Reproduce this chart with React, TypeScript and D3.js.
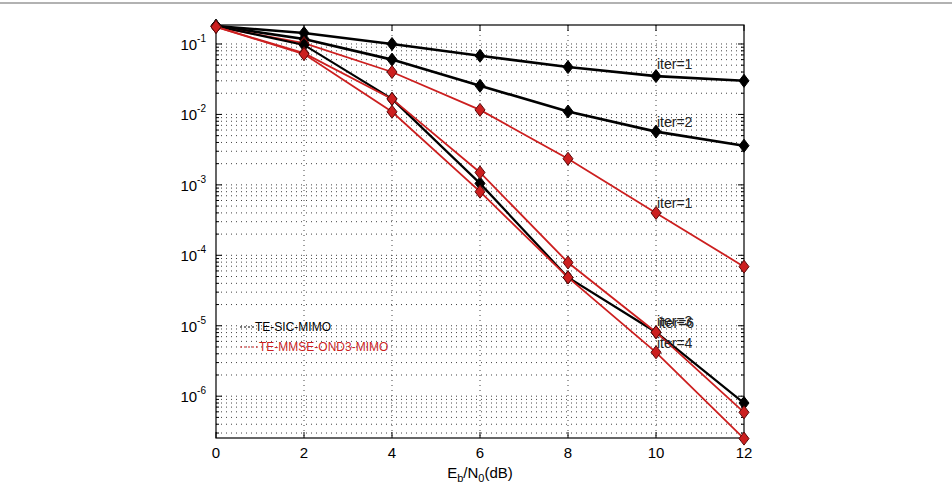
import React from 'react';
import * as d3 from 'd3';

const W = 952;
const H = 484;

const snr = [0, 2, 4, 6, 8, 10, 12];

// TE-SIC-MIMO (black)
const sicIter1 = [0.18, 0.143, 0.1, 0.068, 0.047, 0.035, 0.03];
const sicIter2 = [0.18, 0.118, 0.06, 0.0255, 0.011, 0.0057, 0.0036];
const sicIter3 = [0.18, 0.097, 0.0166, 0.00105, 0.0000485, 0.0000081, 0.0000008];

// TE-MMSE-OND3-MIMO (red)
const mmseIter1 = [0.175, 0.103, 0.04, 0.0116, 0.00235, 0.0004, 0.000069];
const mmseIter3 = [0.175, 0.074, 0.0166, 0.0015, 0.000079, 0.0000081, 0.00000059];
const mmseIter4 = [0.175, 0.072, 0.0109, 0.0008, 0.0000485, 0.0000042, 0.00000025];

const xTicks = [0, 2, 4, 6, 8, 10, 12];
const yDecades = [-1, -2, -3, -4, -5, -6];

const labels = [
  { text: 'iter=1', x: 10, y: 0.044 },
  { text: 'iter=2', x: 10, y: 0.0066 },
  { text: 'iter=1', x: 10, y: 0.00047 },
  { text: 'iter=3', x: 10, y: 0.0000098 },
  { text: 'iter=6', x: 10.04, y: 0.0000092 },
  { text: 'iter=4', x: 10, y: 0.0000049 },
];

const BLACK = '#000000';
const RED = '#cc1f1f';

const App: React.FC = () => {
  const left = 216, right = 744, top = 25, bottom = 438;
  const x = d3.scaleLinear().domain([0, 12]).range([left, right]);
  const y = d3.scaleLog().domain([2.55e-7, 0.186]).range([bottom, top]);

  const line = d3.line<number>().x((_, i) => x(snr[i])).y(d => y(d));

  const minor: number[] = [];
  for (let e = -7; e <= -1; e++) {
    for (let m = 1; m <= 9; m++) {
      const v = m * Math.pow(10, e);
      if (v >= 2.55e-7 && v <= 0.186) minor.push(v);
    }
  }

  const series = [
    { data: sicIter1, color: BLACK, w: 2.6, fill: BLACK },
    { data: sicIter2, color: BLACK, w: 2.6, fill: BLACK },
    { data: mmseIter1, color: RED, w: 1.8, fill: RED },
    { data: sicIter3, color: BLACK, w: 2.2, fill: BLACK },
    { data: mmseIter3, color: RED, w: 1.8, fill: RED },
    { data: mmseIter4, color: RED, w: 1.8, fill: RED },
  ];

  const diamond = (cx: number, cy: number) =>
    `M${cx},${cy - 6.5}L${cx + 5},${cy}L${cx},${cy + 6.5}L${cx - 5},${cy}Z`;

  const font = 'Arial, "Liberation Sans", Helvetica, sans-serif';

  return (
    <div style={{ position: 'absolute', left: 0, top: 0, width: W, height: H, background: '#fff' }}>
      <svg width={W} height={H} style={{ display: 'block' }} fontFamily={font}>
        <rect x={0} y={0} width={W} height={H} fill="#fff" />
        <line x1={0} x2={W} y1={3} y2={3} stroke="#999" strokeWidth={1.5} />

        {/* grid */}
        <g stroke="#444" strokeWidth={1} strokeDasharray="1,4">
          {minor.map((v, i) => (
            <line key={'h' + i} x1={left} x2={right} y1={y(v)} y2={y(v)} />
          ))}
          {xTicks.slice(1, -1).map(t => (
            <line key={'v' + t} x1={x(t)} x2={x(t)} y1={top} y2={bottom} />
          ))}
        </g>

        {/* ticks */}
        <g stroke="#000" strokeWidth={1}>
          {minor.map((v, i) => {
            const major = Math.abs(Math.log10(v) - Math.round(Math.log10(v))) < 1e-9;
            const len = major ? 6 : 3;
            return (
              <g key={'t' + i}>
                <line x1={left} x2={left + len} y1={y(v)} y2={y(v)} />
                <line x1={right} x2={right - len} y1={y(v)} y2={y(v)} />
              </g>
            );
          })}
          {xTicks.map(t => (
            <g key={'xt' + t}>
              <line x1={x(t)} x2={x(t)} y1={bottom} y2={bottom - 6} />
              <line x1={x(t)} x2={x(t)} y1={top} y2={top + 6} />
            </g>
          ))}
        </g>

        <rect x={left} y={top} width={right - left} height={bottom - top} fill="none" stroke="#000" strokeWidth={1.2} />

        {/* series */}
        {series.map((s, i) => (
          <path key={'l' + i} d={line(s.data) || ''} fill="none" stroke={s.color} strokeWidth={s.w} />
        ))}
        {series.map((s, i) => (
          <g key={'m' + i}>
            {s.data.map((d, j) => (
              <path key={j} d={diamond(x(snr[j]), y(d))} fill={s.fill} stroke={s.color === RED ? '#5a0a0a' : '#000'} strokeWidth={1} />
            ))}
          </g>
        ))}

        {/* annotations */}
        {labels.map((l, i) => (
          <text key={'a' + i} x={x(l.x) + 1} y={y(l.y)} fontSize={14} fill="#222">{l.text}</text>
        ))}

        {/* legend */}
        <line x1={240} x2={255} y1={327} y2={327} stroke="#000" strokeWidth={1} strokeDasharray="2,2" />
        <text x={255} y={331} fontSize={12} fill="#000">TE-SIC-MIMO</text>
        <line x1={240} x2={259} y1={347} y2={347} stroke={RED} strokeWidth={1} strokeDasharray="2,2" />
        <text x={259} y={351} fontSize={12} fill={RED}>TE-MMSE-OND3-MIMO</text>

        {/* x tick labels */}
        {xTicks.map(t => (
          <text key={'xl' + t} x={x(t)} y={458} fontSize={15} textAnchor="middle" fill="#000">{t}</text>
        ))}

        {/* y tick labels */}
        {yDecades.map(e => (
          <text key={'yl' + e} x={206} y={y(Math.pow(10, e)) + 6} fontSize={15} textAnchor="end" fill="#000">
            10<tspan fontSize={10} dy={-8}>{e}</tspan>
          </text>
        ))}

        {/* x label */}
        <text x={480} y={478} fontSize={15} textAnchor="middle" fill="#000">
          E<tspan fontSize={11} dy={4}>b</tspan><tspan dy={-4}>/N</tspan><tspan fontSize={11} dy={4}>0</tspan><tspan dy={-4}>(dB)</tspan>
        </text>
      </svg>
    </div>
  );
};

export default App;
